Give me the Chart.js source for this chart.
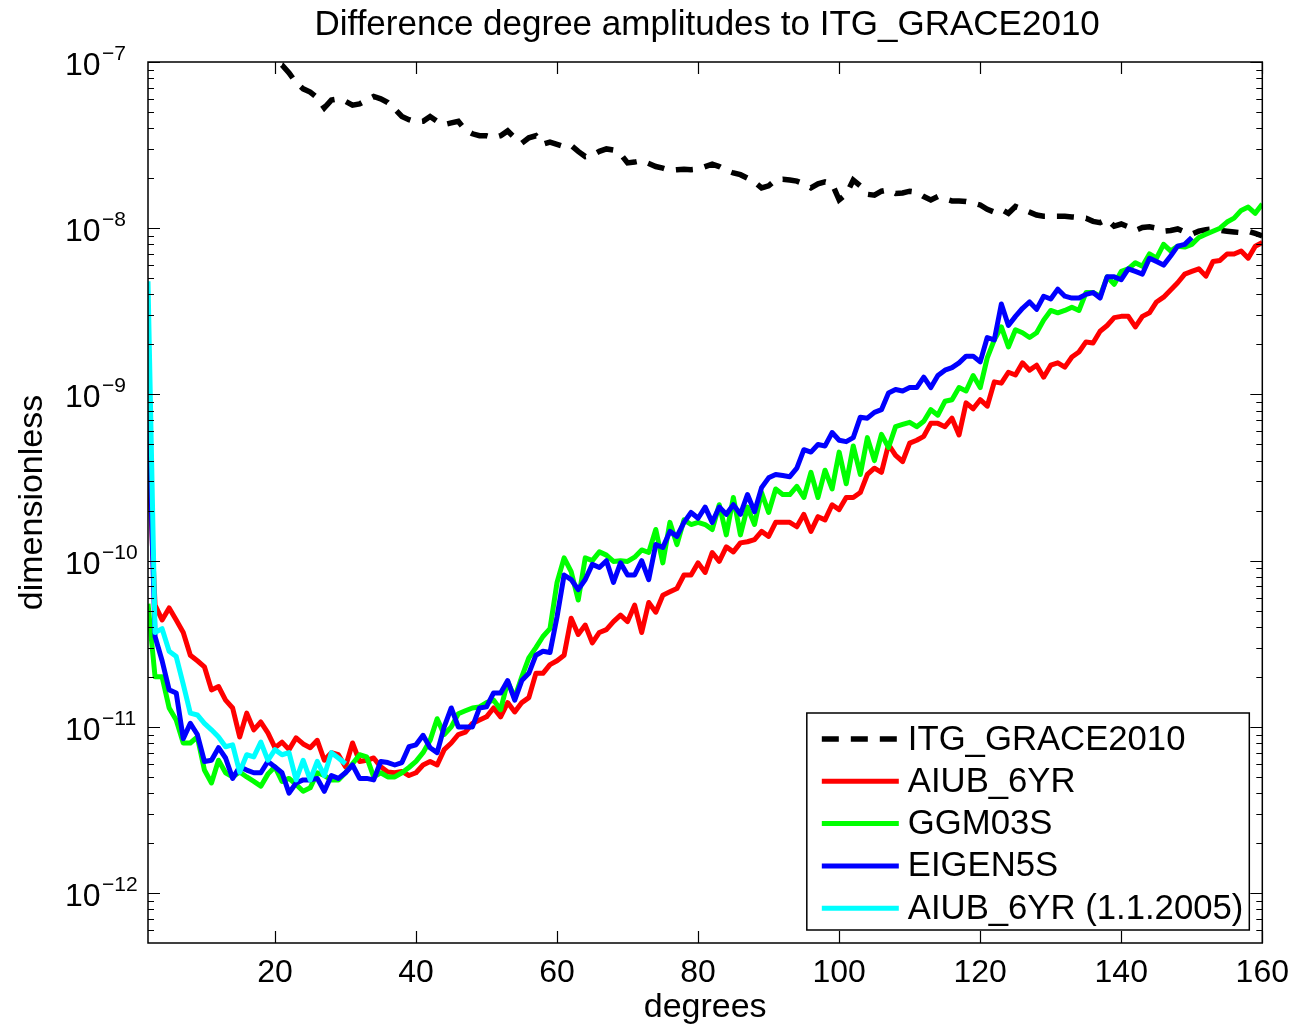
<!DOCTYPE html>
<html>
<head>
<meta charset="utf-8">
<script src="https://cdn.jsdelivr.net/npm/chart.js@4.4.0/dist/chart.umd.min.js"></script>
<style>
  html, body { margin: 0; padding: 0; background: #fff; }
  #wrap { width: 1300px; height: 1028px; }
</style>
</head>
<body>
<div id="wrap"><canvas id="chart" width="1300" height="1028"></canvas></div>
<script>
// series values, one per degree starting at the given degree
const itgStart = 18;
const itgGrace2010 = [
  1.25e-7, 1.1e-7, 1.0e-7, 9.6e-8, 8.6e-8, 7.5e-8, 6.9e-8, 6.6e-8, 6.1e-8, 5.3e-8,
  5.9e-8, 6.0e-8, 5.8e-8, 5.5e-8, 5.6e-8, 5.9e-8, 6.2e-8, 6.0e-8, 5.7e-8, 5.2e-8,
  4.7e-8, 4.5e-8, 4.35e-8, 4.4e-8, 4.7e-8, 4.4e-8, 4.2e-8, 4.3e-8, 4.4e-8, 3.9e-8,
  3.7e-8, 3.6e-8, 3.6e-8, 3.5e-8, 3.6e-8, 3.85e-8, 3.5e-8, 3.25e-8, 3.5e-8, 3.6e-8,
  3.2e-8, 3.3e-8, 3.2e-8, 3.1e-8, 3.15e-8, 2.9e-8, 2.7e-8, 2.75e-8, 2.9e-8, 3.0e-8,
  2.95e-8, 2.8e-8, 2.47e-8, 2.5e-8, 2.55e-8, 2.45e-8, 2.35e-8, 2.3e-8, 2.23e-8, 2.25e-8,
  2.26e-8, 2.25e-8, 2.27e-8, 2.35e-8, 2.43e-8, 2.35e-8, 2.23e-8, 2.15e-8, 2.1e-8, 2.0e-8,
  1.9e-8, 1.75e-8, 1.8e-8, 1.95e-8, 1.97e-8, 1.95e-8, 1.92e-8, 1.85e-8, 1.75e-8, 1.85e-8,
  1.9e-8, 1.85e-8, 1.48e-8, 1.6e-8, 1.95e-8, 1.8e-8, 1.6e-8, 1.58e-8, 1.67e-8, 1.7e-8,
  1.62e-8, 1.63e-8, 1.67e-8, 1.65e-8, 1.55e-8, 1.48e-8, 1.55e-8, 1.5e-8, 1.46e-8, 1.46e-8,
  1.45e-8, 1.42e-8, 1.38e-8, 1.3e-8, 1.25e-8, 1.3e-8, 1.23e-8, 1.35e-8, 1.3e-8, 1.25e-8,
  1.2e-8, 1.18e-8, 1.18e-8, 1.18e-8, 1.18e-8, 1.17e-8, 1.16e-8, 1.15e-8, 1.1e-8, 1.08e-8,
  1.13e-8, 1.03e-8, 1.06e-8, 1.02e-8, 0.97e-8, 1.01e-8, 1.02e-8, 1.0e-8, 0.96e-8, 0.97e-8,
  0.99e-8, 0.95e-8, 0.92e-8, 0.96e-8, 0.98e-8, 0.99e-8, 0.97e-8, 0.96e-8, 0.95e-8, 0.94e-8,
  0.96e-8, 0.93e-8, 0.9e-8
];

const aiubStart = 2;
const aiub6yr = [
  5e-10, 5.4e-11, 4.4e-11, 5.2e-11, 4.4e-11, 3.7e-11, 2.7e-11, 2.5e-11, 2.3e-11, 1.67e-11,
  1.75e-11, 1.45e-11, 1.3e-11, 8.7e-12, 1.21e-11, 9.6e-12, 1.07e-11, 9.2e-12, 7.5e-12, 8.1e-12,
  7.3e-12, 8.6e-12, 7.9e-12, 7.5e-12, 8.3e-12, 6.3e-12, 7.0e-12, 6.8e-12, 5.75e-12, 8.0e-12,
  6.2e-12, 6.3e-12, 6.5e-12, 5.75e-12, 5.35e-12, 5.3e-12, 5.4e-12, 5.1e-12, 5.3e-12, 5.9e-12,
  6.2e-12, 5.9e-12, 7.3e-12, 8.0e-12, 9.0e-12, 9.3e-12, 1.05e-11, 1.1e-11, 1.15e-11, 1.3e-11,
  1.15e-11, 1.4e-11, 1.23e-11, 1.4e-11, 1.5e-11, 2.1e-11, 2.1e-11, 2.37e-11, 2.5e-11, 2.7e-11,
  4.5e-11, 3.6e-11, 4.1e-11, 3.2e-11, 3.7e-11, 3.85e-11, 4.3e-11, 4.7e-11, 4.3e-11, 5.4e-11,
  3.7e-11, 5.6e-11, 4.9e-11, 6.2e-11, 6.5e-11, 6.8e-11, 8.2e-11, 8.2e-11, 9.7e-11, 8.5e-11,
  1.12e-10, 9.9e-11, 1.21e-10, 1.13e-10, 1.28e-10, 1.3e-10, 1.34e-10, 1.5e-10, 1.4e-10, 1.7e-10,
  1.7e-10, 1.7e-10, 1.6e-10, 1.9e-10, 1.5e-10, 1.84e-10, 1.76e-10, 2.17e-10, 2.03e-10, 2.4e-10,
  2.4e-10, 2.57e-10, 3.3e-10, 3.6e-10, 3.4e-10, 5.0e-10, 4.3e-10, 3.95e-10, 5.1e-10, 5.3e-10,
  5.6e-10, 6.7e-10, 6.7e-10, 6.4e-10, 7.2e-10, 5.7e-10, 8.9e-10, 8.2e-10, 9.3e-10, 8.5e-10,
  1.19e-9, 1.17e-9, 1.36e-9, 1.31e-9, 1.55e-9, 1.4e-9, 1.5e-9, 1.27e-9, 1.5e-9, 1.55e-9,
  1.46e-9, 1.68e-9, 1.8e-9, 2.07e-9, 2.04e-9, 2.4e-9, 2.6e-9, 2.9e-9, 2.95e-9, 2.95e-9,
  2.55e-9, 2.95e-9, 3.1e-9, 3.6e-9, 3.85e-9, 4.25e-9, 4.7e-9, 5.3e-9, 5.5e-9, 5.7e-9,
  5.15e-9, 6.3e-9, 6.4e-9, 7.0e-9, 7.0e-9, 7.3e-9, 6.6e-9, 7.8e-9, 8.2e-9
];

const ggmStart = 2;
const ggm03s = [
  5.5e-11, 2.0e-11, 2.0e-11, 1.3e-11, 1.1e-11, 8.0e-12, 8.0e-12, 8.7e-12, 5.5e-12, 4.6e-12,
  6.3e-12, 5.3e-12, 5.0e-12, 5.35e-12, 5.0e-12, 4.7e-12, 4.4e-12, 5.2e-12, 5.75e-12, 4.7e-12,
  4.9e-12, 4.5e-12, 4.1e-12, 4.3e-12, 5.3e-12, 5.1e-12, 4.8e-12, 4.8e-12, 5.3e-12, 6.0e-12,
  6.8e-12, 6.6e-12, 5.0e-12, 5.3e-12, 5.0e-12, 5.0e-12, 5.3e-12, 5.7e-12, 6.2e-12, 7.0e-12,
  8.3e-12, 1.12e-11, 9.0e-12, 1.0e-11, 1.2e-11, 1.25e-11, 1.3e-11, 1.32e-11, 1.4e-11, 1.45e-11,
  1.27e-11, 1.87e-11, 1.5e-11, 2.0e-11, 2.6e-11, 3.0e-11, 3.5e-11, 3.9e-11, 7.4e-11, 1.04e-10,
  8.6e-11, 5.8e-11, 1.04e-10, 1.0e-10, 1.13e-10, 1.08e-10, 9.9e-11, 1.0e-10, 9.9e-11, 1.05e-10,
  1.16e-10, 1.12e-10, 1.54e-10, 9.7e-11, 1.7e-10, 1.25e-10, 1.76e-10, 1.65e-10, 1.7e-10, 1.65e-10,
  1.54e-10, 2.17e-10, 1.43e-10, 2.4e-10, 1.43e-10, 2.1e-10, 1.65e-10, 2.57e-10, 1.95e-10, 2.7e-10,
  2.5e-10, 2.5e-10, 2.8e-10, 2.4e-10, 3.4e-10, 2.4e-10, 3.5e-10, 2.7e-10, 4.5e-10, 2.9e-10,
  4.9e-10, 3.3e-10, 5.5e-10, 4.0e-10, 5.75e-10, 4.8e-10, 6.4e-10, 6.6e-10, 6.8e-10, 6.4e-10,
  6.9e-10, 8.1e-10, 7.5e-10, 9.1e-10, 9.3e-10, 1.1e-9, 1.05e-9, 1.3e-9, 1.1e-9, 1.66e-9,
  2.13e-9, 2.55e-9, 1.93e-9, 2.45e-9, 2.35e-9, 2.2e-9, 2.35e-9, 2.8e-9, 3.2e-9, 3.1e-9,
  3.2e-9, 3.35e-9, 3.2e-9, 4.1e-9, 4.1e-9, 3.9e-9, 5.1e-9, 4.6e-9, 5.5e-9, 5.7e-9,
  6.2e-9, 5.9e-9, 7.0e-9, 6.6e-9, 8.0e-9, 7.3e-9, 7.8e-9, 7.7e-9, 8.0e-9, 8.8e-9,
  9.2e-9, 9.6e-9, 1.0e-8, 1.09e-8, 1.15e-8, 1.28e-8, 1.34e-8, 1.23e-8, 1.4e-8
];

const eigenStart = 2;
const eigen5s = [
  1.05e-9, 3.5e-11, 2.5e-11, 1.67e-11, 1.6e-11, 8.5e-12, 1.05e-11, 9.0e-12, 6.2e-12, 6.3e-12,
  7.5e-12, 6.5e-12, 4.9e-12, 5.75e-12, 5.5e-12, 5.3e-12, 5.3e-12, 6.2e-12, 5.75e-12, 5.3e-12,
  4.0e-12, 4.6e-12, 4.8e-12, 4.8e-12, 4.9e-12, 4.1e-12, 5.1e-12, 4.9e-12, 5.3e-12, 5.9e-12,
  4.9e-12, 4.9e-12, 4.8e-12, 6.2e-12, 6.1e-12, 5.9e-12, 6.1e-12, 7.6e-12, 7.8e-12, 8.9e-12,
  7.5e-12, 7.0e-12, 1.0e-11, 1.3e-11, 1.0e-11, 1.0e-11, 1.0e-11, 1.3e-11, 1.32e-11, 1.6e-11,
  1.6e-11, 1.9e-11, 1.45e-11, 1.9e-11, 2.1e-11, 2.7e-11, 2.85e-11, 2.8e-11, 4.6e-11, 8.2e-11,
  7.7e-11, 6.7e-11, 7.7e-11, 9.5e-11, 9.1e-11, 1.0e-10, 7.4e-11, 9.7e-11, 8.2e-11, 8.2e-11,
  1.0e-10, 7.7e-11, 1.25e-10, 1.2e-10, 1.5e-10, 1.4e-10, 1.7e-10, 1.95e-10, 1.8e-10, 2.1e-10,
  1.7e-10, 2.1e-10, 1.9e-10, 2.17e-10, 1.9e-10, 2.5e-10, 1.97e-10, 2.75e-10, 3.15e-10, 3.3e-10,
  3.25e-10, 3.2e-10, 3.6e-10, 4.65e-10, 4.5e-10, 5.0e-10, 4.9e-10, 5.9e-10, 5.3e-10, 5.2e-10,
  5.5e-10, 7.3e-10, 7.2e-10, 7.8e-10, 8.1e-10, 1.02e-9, 1.07e-9, 1.05e-9, 1.1e-9, 1.1e-9,
  1.27e-9, 1.1e-9, 1.3e-9, 1.4e-9, 1.45e-9, 1.55e-9, 1.7e-9, 1.7e-9, 1.57e-9, 2.2e-9,
  2.13e-9, 3.5e-9, 2.6e-9, 2.95e-9, 3.3e-9, 3.6e-9, 3.25e-9, 3.9e-9, 3.75e-9, 4.3e-9,
  3.9e-9, 3.8e-9, 3.8e-9, 4.0e-9, 4.1e-9, 3.8e-9, 5.1e-9, 5.1e-9, 4.9e-9, 5.7e-9,
  5.5e-9, 5.3e-9, 6.6e-9, 6.3e-9, 6.0e-9, 6.8e-9, 7.8e-9, 8.0e-9, 8.8e-9
];

const aiub2005Start = 2;
const aiub6yr2005 = [
  4.8e-9, 3.7e-11, 3.9e-11, 2.85e-11, 2.65e-11, 1.8e-11, 1.21e-11, 1.18e-11, 1.05e-11, 9.6e-12,
  8.7e-12, 7.6e-12, 7.8e-12, 5.35e-12, 6.8e-12, 6.6e-12, 8.1e-12, 6.3e-12, 7.3e-12, 6.8e-12,
  7.0e-12, 4.8e-12, 6.3e-12, 4.8e-12, 6.2e-12, 5.1e-12, 7.0e-12, 6.5e-12, 6.0e-12
];

const seriesLabels = ['ITG_GRACE2010', 'AIUB_6YR', 'GGM03S', 'EIGEN5S', 'AIUB_6YR (1.1.2005)'];
const xTicks = [20, 40, 60, 80, 100, 120, 140, 160];
const yTickExponents = [-12, -11, -10, -9, -8, -7];

const FONT = "'Liberation Sans', Arial, Helvetica, sans-serif";

function toPoints(start, values) {
  return values.map((v, i) => ({ x: start + i, y: v }));
}

// 坐标框、刻度、y 轴标签、标题
const framePlugin = {
  id: 'frame',
  afterDraw(chart) {
    const { ctx, chartArea: a, scales: { x, y } } = chart;
    ctx.save();
    ctx.strokeStyle = '#000';
    ctx.lineWidth = 1.5;
    ctx.strokeRect(a.left, a.top, a.right - a.left, a.bottom - a.top);

    ctx.beginPath();
    xTicks.forEach(v => {
      const px = Math.round(x.getPixelForValue(v)) + 0.5;
      ctx.moveTo(px, a.bottom); ctx.lineTo(px, a.bottom - 12);
      ctx.moveTo(px, a.top); ctx.lineTo(px, a.top + 12);
    });
    for (let e = -13; e <= -7; e++) {
      for (let m = 1; m <= 9; m++) {
        const v = m * Math.pow(10, e);
        if (v < y.min * 0.999 || v > y.max * 1.001) continue;
        const py = Math.round(y.getPixelForValue(v)) + 0.5;
        const len = m === 1 ? 12 : 6;
        ctx.moveTo(a.left, py); ctx.lineTo(a.left + len, py);
        ctx.moveTo(a.right, py); ctx.lineTo(a.right - len, py);
      }
    }
    ctx.lineWidth = 1.2;
    ctx.stroke();

    ctx.fillStyle = '#000';
    ctx.textAlign = 'left';
    ctx.textBaseline = 'alphabetic';
    yTickExponents.forEach(e => {
      const py = y.getPixelForValue(Math.pow(10, e));
      ctx.font = '32px ' + FONT;
      ctx.fillText('10', 65, py + 13);
      ctx.font = '21px ' + FONT;
      ctx.fillText('\u2212' + Math.abs(e), 102, py - 2);
    });

    ctx.font = '35px ' + FONT;
    ctx.textAlign = 'center';
    ctx.fillText('Difference degree amplitudes to ITG_GRACE2010', (a.left + a.right) / 2 + 2, 35);
    ctx.restore();
  }
};

// 图例
const legendBox = {
  id: 'legendBox',
  afterDraw(chart) {
    const { ctx, chartArea: a } = chart;
    const ds = chart.data.datasets;
    ctx.save();
    ctx.font = '34.7px ' + FONT;
    const maxW = Math.max(...ds.map(d => ctx.measureText(d.label).width));
    const w = 101 + maxW + 6;
    const h = 217;
    const left = a.right - 13 - w;
    const top = a.bottom - 13 - h;
    ctx.fillStyle = '#fff';
    ctx.fillRect(left, top, w, h);
    ctx.strokeStyle = '#000';
    ctx.lineWidth = 1.5;
    ctx.strokeRect(left, top, w, h);
    ds.forEach((d, i) => {
      const cy = top + 26 + i * 42.3;
      ctx.beginPath();
      ctx.strokeStyle = d.borderColor;
      ctx.lineWidth = d.borderWidth;
      ctx.setLineDash(d.borderDash || []);
      ctx.moveTo(left + 15, cy);
      ctx.lineTo(left + 92, cy);
      ctx.stroke();
      ctx.setLineDash([]);
      ctx.fillStyle = '#000';
      ctx.textAlign = 'left';
      ctx.textBaseline = 'middle';
      ctx.fillText(d.label, left + 101, cy + 1);
    });
    ctx.restore();
  }
};

const lineStyle = {
  pointRadius: 0,
  borderWidth: 5,
  tension: 0,
  fill: false,
  borderJoinStyle: 'round',
  spanGaps: false
};

new Chart(document.getElementById('chart'), {
  type: 'line',
  data: {
    datasets: [
      { ...lineStyle, label: seriesLabels[0], data: toPoints(itgStart, itgGrace2010), borderColor: '#000000', borderDash: [17, 12], borderWidth: 5.5, borderJoinStyle: 'miter', order: 5 },
      { ...lineStyle, label: seriesLabels[1], data: toPoints(aiubStart, aiub6yr), borderColor: '#ff0000', order: 4 },
      { ...lineStyle, label: seriesLabels[2], data: toPoints(ggmStart, ggm03s), borderColor: '#00ff00', order: 3 },
      { ...lineStyle, label: seriesLabels[3], data: toPoints(eigenStart, eigen5s), borderColor: '#0000ff', order: 2 },
      { ...lineStyle, label: seriesLabels[4], data: toPoints(aiub2005Start, aiub6yr2005), borderColor: '#00ffff', order: 1 }
    ]
  },
  options: {
    responsive: false,
    animation: false,
    devicePixelRatio: 1,
    layout: { padding: { top: 62, right: 35, left: 0, bottom: 0 } },
    scales: {
      x: {
        type: 'linear',
        min: 2,
        max: 160,
        grid: { display: false, drawTicks: false },
        border: { display: false },
        ticks: {
          stepSize: 20,
          includeBounds: false,
          maxRotation: 0,
          autoSkip: false,
          padding: 11,
          color: '#000',
          font: { family: FONT, size: 32 }
        },
        title: {
          display: true,
          text: 'degrees',
          color: '#000',
          font: { family: FONT, size: 34 },
          padding: { top: 0, bottom: 0 }
        },
        afterFit(scale) { scale.height = 85; }
      },
      y: {
        type: 'logarithmic',
        min: 5.012e-13,
        max: 1e-7,
        grid: { display: false, drawTicks: false },
        border: { display: false },
        ticks: { display: false },
        title: {
          display: true,
          text: 'dimensionless',
          color: '#000',
          font: { family: FONT, size: 34 },
          padding: { top: 12, bottom: 0 }
        },
        afterFit(scale) { scale.width = 148; }
      }
    },
    plugins: {
      legend: { display: false },
      tooltip: { enabled: false },
      title: { display: false }
    }
  },
  plugins: [framePlugin, legendBox]
});
</script>
</body>
</html>
